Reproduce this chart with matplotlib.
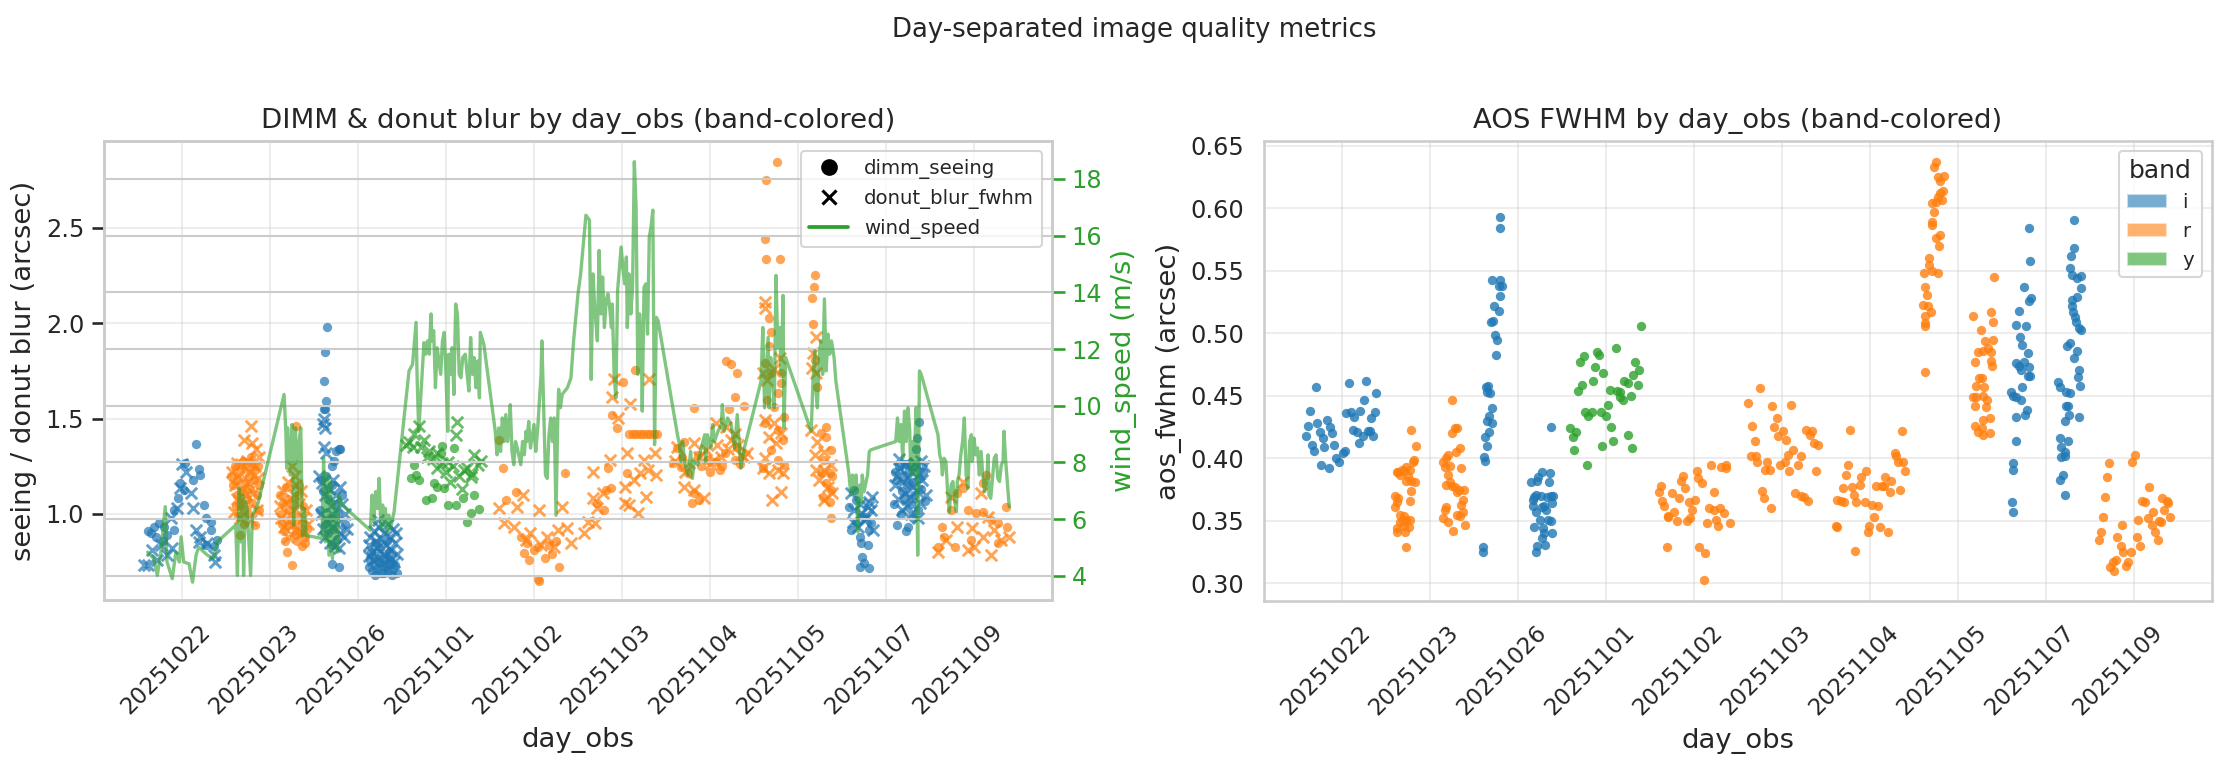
import matplotlib
matplotlib.use("Agg")
import matplotlib.pyplot as plt
import matplotlib.transforms as mtransforms
import seaborn as sns
from matplotlib.lines import Line2D
from matplotlib.patches import Patch

# ---------------- data ----------------
day_labels = ['20251022', '20251023', '20251026', '20251101', '20251102',
              '20251103', '20251104', '20251105', '20251107', '20251109']
bands = ['i', 'r', 'y']
band_colors = {'i': '#1f77b4', 'r': '#ff7f0e', 'y': '#2ca02c'}

# x = day index + position within night
# --- DIMM seeing (arcsec), by band ---
dimm_i_x = [0.16, 0.03, 0.19, 0.21, 0.12, -0.02, 0.02, -0.05, 0.25, -0.09, 0.27, 0.33, -0.39, -0.32, -0.26,
            -0.20, -0.17, 0.33, 0.40, 0.27, -0.09, -0.35, -0.30, 0.36, -0.22,
            1.65, 1.62, 1.61, 1.64, 1.61, 1.63, 1.78, 1.75, 1.80, 1.73, 1.71, 1.58, 1.60, 1.66, 1.70, 1.74, 1.77,
            1.68, 1.62, 1.72, 1.66, 1.76, 1.70, 1.70, 1.78, 1.57, 1.82, 1.64, 1.85,
            2.12, 2.14, 2.16, 2.18, 2.20, 2.22, 2.24, 2.26, 2.28, 2.30, 2.32, 2.34, 2.36, 2.38, 2.40, 2.42, 2.44,
            2.15, 2.25, 2.35, 2.19, 2.29, 2.39, 2.21, 2.33,
            7.72, 7.73, 7.75, 7.81, 7.70, 7.60, 7.66, 7.75, 7.83, 7.81, 7.70, 7.79, 7.58, 7.64, 7.66,
            8.38, 8.35, 8.34, 8.10, 8.13, 8.15, 8.18, 8.20, 8.22, 8.24, 8.26, 8.28, 8.30, 8.32, 8.34, 8.36,
            8.38, 8.40, 8.42, 8.44, 8.12, 8.23, 8.25, 8.17, 8.31, 8.09, 8.27, 8.21]
dimm_i_y = [1.365, 1.27, 1.234, 1.205, 1.178, 1.16, 1.126, 1.082, 1.047, 1.021, 0.977, 0.96, 0.913, 0.934, 0.951,
            0.934, 0.89, 0.916, 0.864, 0.837, 0.916, 0.90, 0.88, 0.83, 0.86,
            1.98, 1.85, 1.70, 1.59, 1.55, 1.55, 1.34, 1.33, 1.34, 1.28, 1.25, 1.18, 1.12, 1.08, 1.15, 1.05, 1.00,
            0.98, 0.95, 0.92, 0.90, 0.87, 0.84, 0.74, 0.72, 1.02, 1.10, 1.20, 0.95,
            0.72, 0.76, 0.70, 0.74, 0.78, 0.71, 0.75, 0.69, 0.73, 0.77, 0.72, 0.70, 0.76, 0.74, 0.71, 0.73, 0.69,
            0.80, 0.82, 0.80, 0.68, 0.69, 0.68, 0.85, 0.86,
            0.846, 0.776, 0.741, 0.715, 0.724, 0.916, 0.951, 0.986, 0.951, 0.916, 0.881, 0.837, 1.038, 1.126, 1.073,
            1.48, 1.40, 1.34, 1.22, 1.18, 1.25, 1.12, 1.20, 1.08, 1.15, 1.23, 1.05, 1.17, 1.10, 1.25, 1.02,
            1.19, 1.13, 1.22, 1.07, 0.94, 0.91, 0.93, 1.00, 0.98, 1.05, 1.27, 1.26]

dimm_r_x = [0.56, 0.58, 0.60, 0.62, 0.63, 0.65, 0.66, 0.68, 0.69, 0.70, 0.72, 0.73, 0.74, 0.76, 0.77, 0.79,
            0.80, 0.82, 0.83, 0.85, 0.86, 0.88, 0.64, 0.71, 0.66, 0.83, 0.78, 0.75, 0.61, 0.87,
            1.29, 1.18, 1.20, 1.22, 1.24, 1.26, 1.28, 1.30, 1.32, 1.34, 1.36, 1.38, 1.40, 1.42, 1.12, 1.14,
            1.16, 1.17, 1.19, 1.25, 1.36, 1.40, 1.31, 1.15, 1.33, 1.21, 1.27, 1.11,
            3.60, 3.65, 4.35, 3.79, 3.68, 3.89, 3.94, 4.04, 4.06, 4.13, 4.28, 4.21, 4.04, 3.92, 4.00, 4.17, 4.25, 3.85,
            4.89, 4.94, 5.01, 5.15, 4.875, 5.06, 4.84, 4.82, 4.72, 4.80,
            5.08, 5.12, 5.16, 5.20, 5.24, 5.28, 5.32, 5.36, 5.40,
            5.82, 6.18, 6.24, 6.31, 6.28, 6.22, 6.39, 5.63, 5.71, 6.11, 5.67, 5.58, 5.75, 5.80, 5.88, 5.82,
            5.97, 5.86, 6.07, 6.17, 6.28, 6.31, 5.90, 6.00, 6.14, 6.34, 5.68,
            6.76, 6.64, 6.63, 6.64, 6.79, 6.67, 6.69, 6.67, 6.63, 6.69, 6.81, 6.81, 6.77, 6.65, 6.73, 6.84,
            6.62, 6.77, 6.83, 6.69, 6.77, 6.84, 6.60,
            7.19, 7.18, 7.16, 7.17, 7.19, 7.22, 7.32, 7.26, 7.32, 7.38, 7.30, 7.36, 7.26, 7.39, 7.32, 7.38,
            7.28, 7.36, 7.38,
            9.36, 9.10, 9.14, 8.87, 8.81, 8.74, 8.64, 8.59, 8.93, 9.02, 9.10, 9.19, 9.27, 9.38, 8.66, 8.78,
            8.97, 9.27]
dimm_r_y = [1.20, 1.15, 1.25, 1.10, 1.18, 1.05, 1.22, 1.12, 1.28, 1.02, 1.16, 1.24, 1.08, 1.20, 1.13, 1.27,
            1.06, 1.18, 1.23, 1.10, 1.25, 1.15, 0.99, 0.95, 0.89, 0.94, 1.30, 1.00, 1.04, 1.02,
            1.46, 1.14, 1.08, 1.02, 0.97, 1.05, 0.93, 1.00, 1.10, 0.90, 0.96, 1.04, 0.88, 0.92, 1.00, 0.95,
            0.91, 0.86, 0.80, 0.73, 0.83, 0.85, 0.86, 1.06, 1.15, 0.94, 0.89, 1.10,
            1.388, 1.24, 1.213, 1.117, 1.073, 0.794, 0.759, 0.657, 0.65, 0.767, 0.724, 0.79, 0.829, 0.85, 0.81, 0.84, 0.86, 0.88,
            1.519, 1.449, 1.694, 1.755, 1.135, 1.213, 1.24, 1.126, 1.056, 1.021,
            1.42, 1.42, 1.42, 1.42, 1.42, 1.42, 1.42, 1.42, 1.42,
            1.558, 1.80, 1.787, 1.741, 1.615, 1.549, 1.567, 1.344, 1.379, 1.23, 1.248, 1.266, 1.213, 1.056, 1.073, 1.108,
            1.283, 1.309, 1.274, 1.318, 1.283, 1.353, 1.25, 1.22, 1.25, 1.26, 1.30,
            2.844, 2.752, 2.442, 2.337, 2.337, 2.026, 1.956, 1.881, 1.79, 1.738, 1.738, 1.685, 1.633, 1.598, 1.563, 1.51,
            1.476, 1.441, 1.388, 1.336, 1.283, 1.257, 1.24,
            2.253, 2.189, 2.131, 1.995, 1.808, 1.668, 1.455, 1.423, 1.406, 1.336, 1.283, 1.213, 1.213, 1.20, 1.161, 1.126,
            1.091, 1.065, 0.977,
            1.038, 1.161, 1.205, 1.135, 1.108, 1.021, 0.934, 0.829, 1.021, 1.004, 1.012, 0.969, 0.951, 0.934, 0.881, 0.829,
            0.864, 0.846]

dimm_y_x = [2.64, 2.60, 2.69, 2.66, 2.86, 2.96, 3.09, 2.94, 2.90, 2.98, 2.77, 2.84, 3.02, 3.11, 3.19, 3.32,
            3.28, 3.38, 3.24]
dimm_y_y = [1.257, 1.19, 1.18, 1.205, 1.16, 1.357, 1.344, 1.32, 1.143, 1.135, 1.073, 1.082, 1.047, 1.047, 1.082, 1.10,
            1.004, 1.025, 0.96]

# --- donut blur FWHM (arcsec), by band ---
blur_i_x = [0.00, 0.05, -0.02, 0.10, -0.06, 0.12, -0.13, 0.16, 0.21, 0.19, 0.29, 0.36, 0.38, -0.39, -0.34,
            -0.24, -0.17, -0.11, -0.28, -0.43,
            1.61, 1.60, 1.62, 1.61, 1.64, 1.56, 1.59, 1.63, 1.67, 1.69, 1.72, 1.75, 1.79, 1.82, 1.85, 1.58,
            1.65, 1.71, 1.76, 1.80, 1.84, 1.62, 1.68, 1.74, 1.87, 1.78, 1.60, 1.70,
            2.12, 2.14, 2.16, 2.18, 2.20, 2.22, 2.24, 2.26, 2.28, 2.30, 2.32, 2.34, 2.36, 2.38, 2.40, 2.42,
            2.44, 2.17, 2.27, 2.37, 2.23, 2.31, 2.41, 2.13, 2.43,
            7.81, 7.83, 7.72, 7.60, 7.75, 7.68, 7.85, 7.64, 7.79, 7.62, 7.70, 7.77, 7.84,
            8.10, 8.12, 8.14, 8.16, 8.19, 8.21, 8.23, 8.25, 8.27, 8.29, 8.31, 8.33, 8.35, 8.37, 8.39, 8.41,
            8.43, 8.45, 8.18, 8.28, 8.36, 8.15, 8.40, 8.24]
blur_i_y = [1.26, 1.22, 1.135, 1.108, 1.03, 1.03, 0.977, 0.916, 0.88, 0.855, 0.846, 0.785, 0.75, 0.733, 0.811,
            0.837, 0.785, 0.82, 0.76, 0.733,
            1.50, 1.47, 1.45, 1.35, 1.32, 1.20, 1.16, 1.10, 1.13, 1.04, 1.18, 1.10, 1.14, 1.05, 1.00, 1.00,
            0.97, 0.93, 0.95, 0.90, 0.88, 0.88, 0.85, 0.83, 0.92, 0.82, 0.92, 1.00,
            0.84, 0.88, 0.80, 0.91, 0.86, 0.82, 0.93, 0.87, 0.79, 0.90, 0.84, 0.95, 0.88, 0.81, 0.92, 0.85,
            0.79, 0.76, 0.74, 0.77, 0.97, 0.78, 0.75, 0.78, 0.90,
            1.065, 1.021, 1.004, 1.108, 0.969, 0.934, 0.916, 1.02, 1.038, 0.96, 1.05, 0.98, 1.09,
            1.15, 1.20, 1.08, 1.24, 1.17, 1.11, 1.26, 1.19, 1.09, 1.22, 1.14, 1.27, 1.12, 1.21, 1.06, 1.18,
            1.25, 1.10, 1.02, 1.00, 0.98, 1.29, 1.28, 1.04]

blur_r_x = [0.78, 0.70, 0.80, 0.84, 0.74, 0.57, 0.60, 0.62, 0.64, 0.67, 0.69, 0.72, 0.75, 0.77, 0.81, 0.83,
            0.86, 0.88, 0.59, 0.66, 0.73, 0.85, 0.79, 0.63,
            1.25, 1.15, 1.18, 1.21, 1.23, 1.27, 1.30, 1.33, 1.35, 1.38, 1.41, 1.13, 1.16, 1.26, 1.31, 1.36,
            1.20, 1.43, 1.28, 1.11,
            3.60, 3.87, 3.81, 4.06, 4.32, 3.66, 3.77, 3.96, 4.15, 4.27, 4.38, 4.42, 3.91, 4.08, 4.23,
            4.91, 5.31, 4.89, 5.09, 4.95, 5.06, 4.86, 4.67, 5.37, 5.25, 5.20, 5.29, 5.39, 5.03, 5.14, 4.67,
            4.78, 5.03, 5.27, 4.72, 4.61, 4.69, 4.57, 5.18, 5.08,
            5.63, 5.82, 6.07, 6.18, 6.35, 6.39, 5.71, 5.82, 5.93, 6.05, 6.24, 5.76, 5.95, 6.08, 6.28,
            5.60, 5.72, 5.88, 6.00, 6.13, 6.20, 6.32, 6.42,
            6.63, 6.63, 6.60, 6.65, 6.79, 6.73, 6.62, 6.73, 6.67, 6.81, 6.75, 6.63, 6.77, 6.60, 6.81, 6.71,
            6.67, 6.83,
            7.20, 7.17, 7.16, 7.20, 7.15, 7.22, 7.19, 7.30, 7.20, 7.30, 7.38, 7.24, 7.34, 7.39, 7.30,
            8.87, 8.74, 9.08, 9.16, 8.81, 8.68, 8.59, 8.93, 9.00, 9.10, 9.19, 9.31, 9.40, 9.23, 8.98]
blur_r_y = [1.46, 1.39, 1.37, 1.34, 1.28, 1.22, 1.15, 1.08, 1.20, 1.26, 1.13, 1.05, 1.17, 1.22, 1.11, 1.25,
            1.19, 1.30, 1.01, 0.98, 1.10, 1.02, 0.97, 1.27,
            1.25, 1.12, 1.06, 1.17, 1.00, 1.10, 1.15, 1.05, 1.12, 0.98, 1.02, 0.98, 0.93, 0.95, 0.91, 0.90,
            0.88, 0.95, 1.20, 1.04,
            1.03, 1.10, 1.038, 1.021, 1.038, 0.951, 0.934, 0.899, 0.88, 0.916, 0.925, 0.846, 0.864, 0.837, 0.829,
            1.706, 1.706, 1.615, 1.575, 1.505, 1.318, 1.283, 1.222, 1.318, 1.283, 1.213, 1.23, 1.205, 1.143, 1.178, 1.082,
            1.108, 1.056, 1.091, 1.03, 0.96, 0.951, 0.899, 1.004, 1.047,
            1.353, 1.37, 1.476, 1.455, 1.309, 1.30, 1.143, 1.126, 1.082, 1.283, 1.388, 1.266, 1.335, 1.362, 1.42,
            1.28, 1.22, 1.30, 1.26, 1.30, 1.34, 1.36, 1.32,
            2.114, 2.079, 1.738, 1.703, 1.816, 1.76, 1.493, 1.476, 1.406, 1.423, 1.37, 1.292, 1.23, 1.24, 1.117, 1.073,
            1.213, 1.213,
            1.93, 1.843, 1.764, 1.738, 1.441, 1.379, 1.309, 1.327, 1.231, 1.231, 1.257, 1.178, 1.143, 1.108, 1.073,
            1.17, 1.091, 1.108, 0.986, 0.934, 0.864, 0.803, 0.811, 0.829, 0.881, 0.785, 0.864, 0.881, 0.916, 0.925]

blur_y_x = [2.64, 2.69, 2.58, 2.75, 2.81, 2.90, 3.02, 3.13, 3.11, 3.32, 3.20, 3.28, 3.05, 3.36, 2.90,
            2.55, 2.62, 2.72, 2.78, 2.85, 2.95, 3.00, 3.08, 3.15, 3.24, 3.40, 3.30, 3.18]
blur_y_y = [1.42, 1.46, 1.38, 1.39, 1.33, 1.32, 1.275, 1.484, 1.414, 1.31, 1.23, 1.196, 1.17, 1.255, 1.24,
            1.36, 1.35, 1.35, 1.30, 1.29, 1.27, 1.22, 1.25, 1.20, 1.24, 1.28, 1.21, 1.13]

# --- wind speed (m/s) ---
wind_x = [-0.39, -0.32, -0.28, -0.24, -0.19, -0.17, -0.11, -0.07, -0.03, -0.01, 0.02, 0.08, 0.12, 0.16, 0.19,
          0.25, 0.29, 0.36, 0.40, 0.61, 0.63, 0.65, 0.67, 0.69, 0.70, 0.72, 0.74, 0.78, 0.80, 0.86,
          1.16, 1.18, 1.19, 1.20, 1.23, 1.25, 1.27, 1.29, 1.31, 1.33, 1.35, 1.37, 1.39, 1.41,
          1.59, 1.61, 1.63, 1.65, 1.67, 1.69, 1.71, 1.73, 1.77, 1.78, 1.82,
          2.14, 2.16, 2.18, 2.20, 2.22, 2.24, 2.26, 2.28, 2.30, 2.31, 2.33, 2.35, 2.37, 2.41,
          2.58, 2.62, 2.66, 2.67, 2.69, 2.71, 2.75, 2.77, 2.79, 2.81, 2.83, 2.84, 2.86, 2.88, 2.90, 2.94,
          2.96, 2.98, 3.00, 3.02, 3.03, 3.05, 3.07, 3.09, 3.11, 3.13, 3.15, 3.17, 3.19, 3.22, 3.24, 3.26,
          3.28, 3.30, 3.32, 3.34, 3.36, 3.38, 3.39, 3.43,
          3.56, 3.58, 3.60, 3.62, 3.64, 3.66, 3.68, 3.70, 3.72, 3.73, 3.75, 3.77, 3.79, 3.81, 3.85, 3.87,
          3.89, 3.91, 3.92, 3.94, 3.96, 4.00, 4.02, 4.04, 4.08, 4.09, 4.11, 4.13, 4.15, 4.17, 4.19, 4.21,
          4.23, 4.25, 4.27, 4.28, 4.30, 4.32, 4.38, 4.42, 4.45,
          4.50, 4.53, 4.59, 4.63, 4.65, 4.67, 4.69, 4.72, 4.74, 4.76, 4.78, 4.80, 4.82, 4.84, 4.86, 4.88,
          4.89, 4.91, 4.93, 4.95, 4.99, 5.01, 5.03, 5.05, 5.06, 5.08, 5.10, 5.12, 5.14, 5.16, 5.18, 5.20,
          5.22, 5.23, 5.25, 5.27, 5.29, 5.31, 5.33, 5.35, 5.37, 5.39, 5.41,
          5.63, 5.65, 5.67, 5.69, 5.71, 5.75, 5.78, 5.80, 5.82, 5.86, 5.90, 5.94, 5.95, 5.97, 6.01, 6.03,
          6.05, 6.09, 6.13, 6.14, 6.16, 6.20, 6.24, 6.28, 6.31, 6.35, 6.39,
          6.58, 6.60, 6.62, 6.66, 6.67, 6.69, 6.71, 6.73, 6.75, 6.77, 6.79, 6.81, 6.83, 6.84, 6.86,
          7.15, 7.17, 7.19, 7.20, 7.22, 7.24, 7.26, 7.28, 7.30, 7.32, 7.34, 7.36, 7.38, 7.41, 7.43,
          7.58, 7.60, 7.62, 7.64, 7.66, 7.68, 7.70, 7.72, 7.73, 7.75, 7.79, 7.81, 7.83,
          8.11, 8.13, 8.15, 8.17, 8.19, 8.21, 8.23, 8.25, 8.27, 8.28, 8.30, 8.32, 8.34, 8.36, 8.38, 8.40,
          8.59, 8.61, 8.63, 8.64, 8.66, 8.68, 8.70, 8.72, 8.74, 8.76, 8.78, 8.80, 8.81, 8.83, 8.85, 8.87,
          8.89, 8.91, 8.93, 8.95, 8.97, 8.98, 9.00, 9.02, 9.04, 9.06, 9.08, 9.10, 9.12, 9.14, 9.16, 9.17,
          9.19, 9.23, 9.25, 9.27, 9.29, 9.31, 9.33, 9.34, 9.36, 9.40]
wind_speed = [4.84, 4.61, 4.02, 4.84, 6.44, 4.49, 3.90, 4.84, 4.49, 5.38, 4.49, 4.43, 3.78, 4.73, 5.02,
              4.84, 4.73, 4.61, 5.20, 5.79, 4.02, 7.09, 5.20, 6.85, 4.02, 6.62, 6.38, 4.02, 6.14, 6.50,
              10.40, 9.10, 7.80, 9.22, 7.56, 9.34, 5.79, 9.22, 6.38, 8.74, 9.22, 5.43, 6.38, 5.43,
              5.32, 8.15, 5.20, 7.56, 4.73, 7.33, 4.61, 6.62, 4.84, 6.85, 6.50,
              5.61, 6.85, 5.91, 6.97, 6.38, 7.44, 5.67, 6.50, 5.79, 6.38, 5.55, 6.14, 5.67, 6.26,
              11.23, 11.46, 12.94, 11.23, 9.10, 10.16, 12.23, 11.82, 12.29, 11.82, 13.24, 12.29, 12.65, 10.64, 12.05, 11.11,
              12.29, 12.59, 11.11, 9.10, 11.82, 11.11, 12.05, 10.40, 13.59, 13.24, 11.11, 10.99, 11.70, 11.82, 11.11, 10.52,
              12.41, 11.11, 11.70, 10.64, 11.58, 10.28, 12.59, 12.17,
              9.10, 8.27, 9.22, 8.39, 9.57, 8.74, 9.69, 8.74, 9.34, 10.04, 8.39, 7.92, 8.74, 8.51, 7.92, 8.74,
              8.27, 9.10, 8.74, 9.45, 8.51, 9.34, 8.39, 9.10, 11.11, 12.29, 9.93, 7.56, 7.44, 8.98, 9.57, 8.74,
              9.57, 6.14, 9.57, 10.58, 9.93, 10.40, 10.64, 10.99, 12.29,
              13.95, 14.65, 16.72, 16.55, 10.93, 14.65, 13.47, 12.29, 15.48, 13.24, 14.54, 12.76, 13.71, 13.95, 13.47, 12.76,
              13.59, 11.11, 10.28, 14.06, 15.60, 14.89, 14.30, 15.25, 12.76, 14.65, 13.24, 14.18, 18.61, 17.02, 11.11, 13.24,
              12.05, 9.81, 14.18, 14.30, 12.53, 15.96, 16.31, 16.90, 8.63, 13.12, 13.00,
              8.98, 8.69, 8.04, 8.74, 8.04, 7.56, 8.39, 7.44, 8.04, 7.92, 8.51, 8.98, 8.04, 8.98, 8.51, 9.34,
              8.74, 9.10, 9.34, 10.04, 9.10, 9.57, 9.34, 8.51, 9.69, 7.80, 8.51,
              10.87, 12.76, 9.93, 12.41, 9.93, 11.70, 10.99, 9.93, 14.60, 12.05, 12.76, 11.11, 13.89, 9.22, 11.70,
              9.10, 10.87, 11.94, 10.64, 9.93, 11.70, 12.29, 11.11, 13.77, 11.23, 12.53, 11.82, 12.29, 11.70, 10.87,
              7.56, 6.85, 7.56, 6.97, 7.56, 5.55, 7.21, 6.62, 7.56, 6.97, 7.56, 8.39, 8.45,
              8.74, 9.57, 8.74, 9.34, 8.15, 9.81, 8.74, 9.93, 9.10, 7.56, 8.74, 7.56, 9.93, 4.73, 11.23, 11.11,
              8.98, 8.27, 8.04, 7.56, 8.15, 8.04, 6.97, 6.26, 7.21, 7.33, 6.62, 6.26, 7.33, 7.56, 8.27, 8.74,
              9.57, 7.56, 7.09, 8.74, 8.98, 8.04, 8.86, 8.27, 8.51, 7.56, 8.39, 7.56, 6.97, 7.21, 8.27, 6.85,
              6.74, 8.15, 8.27, 7.44, 7.33, 7.92, 8.04, 9.10, 8.04, 6.44]

# --- AOS FWHM (arcsec), by band ---
aos_i_x = [-0.30, -0.36, -0.39, -0.28, -0.17, -0.41, -0.25, -0.22, -0.14, -0.11, -0.34, -0.32, -0.20, -0.09, -0.24,
           -0.15, -0.07, -0.03, 0.01, 0.04, 0.08, 0.27, 0.39, 0.25, 0.05, 0.10, 0.20, 0.37, 0.33, 0.14,
           0.13, 0.17, 0.24, 0.30, 0.32, 0.35, 0.19,
           1.80, 1.80, 1.71, 1.80, 1.78, 1.82, 1.79, 1.73, 1.78, 1.69, 1.72, 1.74, 1.76, 1.75, 1.64,
           1.66, 1.68, 1.65, 1.70, 1.67, 1.65, 1.71, 1.67, 1.63, 1.65, 1.61, 1.62, 1.60, 1.60,
           2.37, 2.27, 2.36, 2.23, 2.15, 2.22, 2.35, 2.20, 2.18, 2.17, 2.26, 2.33, 2.37, 2.40, 2.17,
           2.29, 2.39, 2.21, 2.27, 2.32, 2.25, 2.34, 2.37, 2.18, 2.28, 2.39, 2.27, 2.22, 2.31, 2.21, 2.29,
           7.81, 7.82, 7.75, 7.83, 7.81, 7.69, 7.66, 7.77, 7.71, 7.73, 7.79, 7.66, 7.69, 7.75, 7.81,
           7.72, 7.80, 7.82, 7.73, 7.60, 7.63, 7.66, 7.72, 7.78, 7.76, 7.66, 7.66, 7.63, 7.62, 7.61, 7.63,
           8.32, 8.32, 8.28, 8.27, 8.30, 8.40, 8.35, 8.40, 8.35, 8.29, 8.30, 8.31, 8.33, 8.34, 8.38,
           8.40, 8.27, 8.24, 8.35, 8.32, 8.37, 8.36, 8.39, 8.14, 8.16, 8.23, 8.27, 8.23, 8.25, 8.37,
           8.26, 8.21, 8.16, 8.25, 8.17, 8.22, 8.17, 8.21, 8.19, 8.16, 8.21]
aos_i_y = [0.457, 0.438, 0.426, 0.428, 0.431, 0.418, 0.421, 0.416, 0.425, 0.420, 0.411, 0.406, 0.409, 0.411, 0.395,
           0.392, 0.400, 0.397, 0.404, 0.406, 0.460, 0.462, 0.452, 0.447, 0.436, 0.437, 0.438, 0.437, 0.432, 0.433,
           0.423, 0.421, 0.418, 0.422, 0.422, 0.418, 0.412,
           0.593, 0.584, 0.543, 0.543, 0.538, 0.538, 0.530, 0.522, 0.518, 0.509, 0.510, 0.499, 0.495, 0.483, 0.457,
           0.458, 0.452, 0.453, 0.440, 0.434, 0.430, 0.428, 0.421, 0.417, 0.410, 0.401, 0.398, 0.329, 0.325,
           0.425, 0.389, 0.388, 0.385, 0.381, 0.382, 0.381, 0.371, 0.369, 0.367, 0.370, 0.369, 0.370, 0.370, 0.362,
           0.362, 0.364, 0.357, 0.361, 0.359, 0.351, 0.351, 0.350, 0.345, 0.344, 0.340, 0.336, 0.330, 0.331, 0.325, 0.340,
           0.584, 0.558, 0.537, 0.528, 0.526, 0.518, 0.507, 0.506, 0.497, 0.491, 0.484, 0.476, 0.474, 0.477, 0.473,
           0.471, 0.466, 0.466, 0.457, 0.453, 0.450, 0.449, 0.447, 0.439, 0.435, 0.433, 0.414, 0.396, 0.391, 0.365, 0.357,
           0.591, 0.568, 0.562, 0.552, 0.547, 0.546, 0.544, 0.536, 0.529, 0.527, 0.522, 0.517, 0.513, 0.509, 0.504,
           0.503, 0.492, 0.490, 0.486, 0.480, 0.471, 0.465, 0.458, 0.461, 0.457, 0.453, 0.452, 0.442, 0.442, 0.433,
           0.435, 0.430, 0.416, 0.414, 0.409, 0.405, 0.401, 0.402, 0.387, 0.383, 0.371]

aos_r_x = [0.79, 0.84, 0.82, 0.81, 0.77, 0.73, 0.70, 0.64, 0.66, 0.62, 0.68, 0.75, 0.83, 0.79, 0.73, 0.79,
           0.77, 0.60, 0.64, 0.62, 0.60, 0.66, 0.70, 0.73, 0.77, 0.66, 0.62, 0.71, 0.76, 0.62, 0.72, 0.73, 0.69,
           1.25, 1.28, 1.31, 1.25, 1.34, 1.30, 1.21, 1.18, 1.15, 1.17, 1.23, 1.35, 1.21, 1.23, 1.18, 1.25,
           1.28, 1.33, 1.39, 1.31, 1.37, 1.35, 1.18, 1.17, 1.31, 1.38, 1.34, 1.15, 1.20, 1.40, 1.26,
           4.19, 4.36, 4.31, 4.36, 4.03, 3.88, 3.85, 4.04, 4.09, 3.62, 3.90, 3.60, 3.75, 4.23, 3.83, 3.94,
           4.01, 3.64, 3.66, 3.77, 3.71, 3.70, 3.98, 4.17, 4.23, 4.30, 4.34, 3.95, 3.92, 3.81, 4.25, 4.15,
           4.27, 4.41, 3.69, 4.06, 4.12, 4.11,
           4.61, 4.75, 4.89, 5.10, 4.94, 4.66, 4.91, 5.01, 4.96, 5.05, 5.27, 5.34, 5.32, 4.69, 5.36, 5.41,
           5.13, 4.65, 4.71, 5.07, 5.22, 4.72, 4.83, 4.81, 4.86, 4.98, 5.03, 5.18, 5.08, 5.39, 4.77, 4.79,
           5.15, 5.25, 5.29, 4.87, 5.22,
           5.77, 6.36, 6.28, 6.30, 5.75, 5.96, 6.32, 6.38, 6.40, 5.73, 5.90, 6.17, 6.24, 6.07, 6.14, 6.16,
           5.69, 5.79, 5.89, 5.82, 6.23, 6.34, 5.63, 5.67, 5.71, 5.84, 5.94, 6.02, 6.09, 6.04, 5.61, 5.63,
           5.99, 5.98, 6.11, 6.21, 5.83,
           6.75, 6.73, 6.77, 6.84, 6.80, 6.83, 6.79, 6.77, 6.82, 6.75, 6.71, 6.73, 6.70, 6.71, 6.79, 6.75,
           6.78, 6.67, 6.67, 6.61, 6.70, 6.77, 6.63, 6.65, 6.60, 6.66, 6.69, 6.62, 6.63, 6.62, 6.63,
           7.41, 7.17, 7.37, 7.40, 7.26, 7.31, 7.40, 7.23, 7.28, 7.34, 7.37, 7.38, 7.19, 7.39, 7.27, 7.24,
           7.21, 7.30, 7.17, 7.21, 7.28, 7.33, 7.19, 7.32, 7.28, 7.36, 7.19, 7.27, 7.28, 7.36, 7.23,
           9.01, 8.71, 8.98, 8.69, 9.17, 8.67, 9.09, 9.12, 9.32, 9.37, 9.39, 9.21, 9.34, 8.65, 9.16, 9.41,
           9.05, 9.28, 9.31, 9.20, 8.86, 8.62, 9.24, 8.81, 9.03, 8.60, 9.27, 8.85, 9.07, 8.88, 8.96, 8.79,
           8.76, 8.93, 8.91, 8.73, 8.77]
aos_r_y = [0.423, 0.410, 0.399, 0.397, 0.391, 0.393, 0.390, 0.389, 0.387, 0.389, 0.391, 0.386, 0.381, 0.382, 0.382, 0.374,
           0.366, 0.370, 0.368, 0.365, 0.361, 0.355, 0.354, 0.351, 0.351, 0.349, 0.344, 0.346, 0.345, 0.341, 0.341, 0.329, 0.350,
           0.447, 0.424, 0.424, 0.420, 0.408, 0.405, 0.403, 0.400, 0.397, 0.393, 0.394, 0.392, 0.387, 0.381, 0.379, 0.378,
           0.377, 0.375, 0.375, 0.373, 0.367, 0.363, 0.361, 0.359, 0.355, 0.357, 0.354, 0.352, 0.349, 0.347, 0.342,
           0.395, 0.395, 0.393, 0.392, 0.390, 0.386, 0.382, 0.384, 0.380, 0.378, 0.376, 0.373, 0.372, 0.373, 0.368, 0.365,
           0.367, 0.366, 0.362, 0.357, 0.354, 0.353, 0.359, 0.360, 0.359, 0.360, 0.356, 0.352, 0.350, 0.350, 0.351, 0.348,
           0.346, 0.348, 0.329, 0.329, 0.324, 0.303,
           0.444, 0.456, 0.442, 0.443, 0.432, 0.426, 0.425, 0.422, 0.418, 0.415, 0.423, 0.422, 0.419, 0.414, 0.412, 0.411,
           0.407, 0.402, 0.402, 0.403, 0.402, 0.397, 0.397, 0.391, 0.391, 0.395, 0.397, 0.395, 0.390, 0.390, 0.374, 0.368,
           0.372, 0.369, 0.366, 0.360, 0.370,
           0.423, 0.422, 0.404, 0.402, 0.395, 0.390, 0.397, 0.397, 0.390, 0.387, 0.385, 0.385, 0.382, 0.378, 0.378, 0.378,
           0.376, 0.377, 0.379, 0.371, 0.373, 0.375, 0.367, 0.366, 0.365, 0.365, 0.365, 0.363, 0.362, 0.353, 0.346, 0.345,
           0.346, 0.341, 0.345, 0.341, 0.326,
           0.637, 0.633, 0.625, 0.626, 0.622, 0.614, 0.612, 0.609, 0.607, 0.605, 0.604, 0.597, 0.589, 0.587, 0.579, 0.576,
           0.570, 0.560, 0.555, 0.548, 0.550, 0.548, 0.537, 0.531, 0.523, 0.522, 0.517, 0.514, 0.508, 0.506, 0.469,
           0.545, 0.514, 0.517, 0.509, 0.503, 0.494, 0.495, 0.485, 0.486, 0.488, 0.485, 0.478, 0.477, 0.474, 0.464, 0.464,
           0.458, 0.457, 0.449, 0.449, 0.450, 0.447, 0.442, 0.441, 0.431, 0.432, 0.426, 0.424, 0.419, 0.420, 0.421,
           0.403, 0.396, 0.397, 0.385, 0.377, 0.369, 0.366, 0.365, 0.368, 0.366, 0.364, 0.357, 0.359, 0.353, 0.352, 0.353,
           0.351, 0.350, 0.349, 0.347, 0.347, 0.341, 0.341, 0.337, 0.337, 0.335, 0.335, 0.330, 0.330, 0.325, 0.325, 0.319,
           0.317, 0.317, 0.314, 0.313, 0.310]

aos_y_x = [3.40, 3.11, 2.75, 2.90, 2.92, 2.70, 2.87, 3.33, 3.38, 2.97, 3.31, 2.85, 2.73, 3.21, 3.25, 2.68,
           3.04, 3.13, 3.16, 3.36, 3.16, 3.19, 3.28, 3.02, 2.76, 2.84, 2.80, 2.94, 3.00, 3.06, 2.59, 2.66,
           2.62, 3.25, 3.08, 2.64, 2.95, 3.30, 2.78]
aos_y_y = [0.506, 0.488, 0.482, 0.485, 0.483, 0.477, 0.473, 0.477, 0.471, 0.468, 0.467, 0.462, 0.459, 0.462, 0.460, 0.454,
           0.455, 0.454, 0.453, 0.459, 0.449, 0.447, 0.450, 0.443, 0.437, 0.437, 0.434, 0.437, 0.434, 0.425, 0.424, 0.421,
           0.417, 0.419, 0.414, 0.407, 0.410, 0.408, 0.395]

dimm = {'i': (dimm_i_x, dimm_i_y), 'r': (dimm_r_x, dimm_r_y), 'y': (dimm_y_x, dimm_y_y)}
blur = {'i': (blur_i_x, blur_i_y), 'r': (blur_r_x, blur_r_y), 'y': (blur_y_x, blur_y_y)}
aos = {'i': (aos_i_x, aos_i_y), 'r': (aos_r_x, aos_r_y), 'y': (aos_y_x, aos_y_y)}

# ---------------- plot ----------------
sns.set_theme(style="whitegrid", context="notebook", font_scale=1.1)
plt.rcParams['font.family'] = ['DejaVu Sans']
plt.rcParams['xtick.labelsize'] = 11
plt.rcParams['ytick.labelsize'] = 11.5

fig = plt.figure(figsize=(2227 / 150, 769 / 150), dpi=150)
ax1 = fig.add_axes([104 / 2227, 1 - 600 / 769, 948 / 2227, 459 / 769])
ax3 = fig.add_axes([1264 / 2227, 1 - 601 / 769, 948 / 2227, 460 / 769])

label_shift = mtransforms.ScaledTranslation(8 / 72, 0, fig.dpi_scale_trans)


def style_xticks(ax):
    ax.set_xticks(range(len(day_labels)))
    ax.set_xticklabels(day_labels, rotation=45, ha='right', rotation_mode='anchor')
    for lab in ax.get_xticklabels():
        lab.set_transform(lab.get_transform() + label_shift)


for b in bands:
    x, y = dimm[b]
    ax1.scatter(x, y, s=20, marker='o', color=band_colors[b], alpha=0.7, linewidths=0)
for b in bands:
    x, y = blur[b]
    ax1.scatter(x, y, s=30, marker='x', color=band_colors[b], alpha=0.7, linewidths=1.4)

ax1.grid(True, alpha=0.35)
ax1.set_xlim(-0.886, 9.886)
ax1.set_ylim(0.549, 2.956)
style_xticks(ax1)
ax1.set_xlabel('day_obs')
ax1.set_ylabel('seeing / donut blur (arcsec)')
ax1.set_title('DIMM & donut blur by day_obs (band-colored)')

ax2 = ax1.twinx()
ax2.plot(wind_x, wind_speed, color='#2ca02c', alpha=0.6, lw=1.6)
ax2.set_ylim(3.15, 19.34)
ax2.set_yticks([4, 6, 8, 10, 12, 14, 16, 18])
ax2.set_ylabel('wind_speed (m/s)', color='#2ca02c')
ax2.tick_params(axis='y', colors='#2ca02c')
for sp in ax2.spines.values():
    sp.set_color('.8')

handles = [Line2D([], [], marker='o', color='black', linestyle='none', markersize=7),
           Line2D([], [], marker='x', color='black', linestyle='none', markersize=7, markeredgewidth=1.5),
           Line2D([], [], color='#2ca02c', lw=1.8)]
ax2.legend(handles, ['dimm_seeing', 'donut_blur_fwhm', 'wind_speed'], loc='upper right', fontsize=9.5)

for b in bands:
    x, y = aos[b]
    ax3.scatter(x, y, s=20, color=band_colors[b], alpha=0.8, linewidths=0)
ax3.grid(True, alpha=0.35)
ax3.set_xlim(-0.886, 9.886)
ax3.set_ylim(0.2858, 0.654)
style_xticks(ax3)
ax3.set_xlabel('day_obs')
ax3.set_ylabel('aos_fwhm (arcsec)')
ax3.set_title('AOS FWHM by day_obs (band-colored)')
patches = [Patch(facecolor=band_colors[b], alpha=0.6, label=b) for b in bands]
ax3.legend(handles=patches, title='band', loc='upper right', fontsize=9.5, title_fontsize=12)

fig.suptitle('Day-separated image quality metrics', x=0.5095, y=0.978, fontsize=12.5)
fig.savefig('out.png', dpi=150)
